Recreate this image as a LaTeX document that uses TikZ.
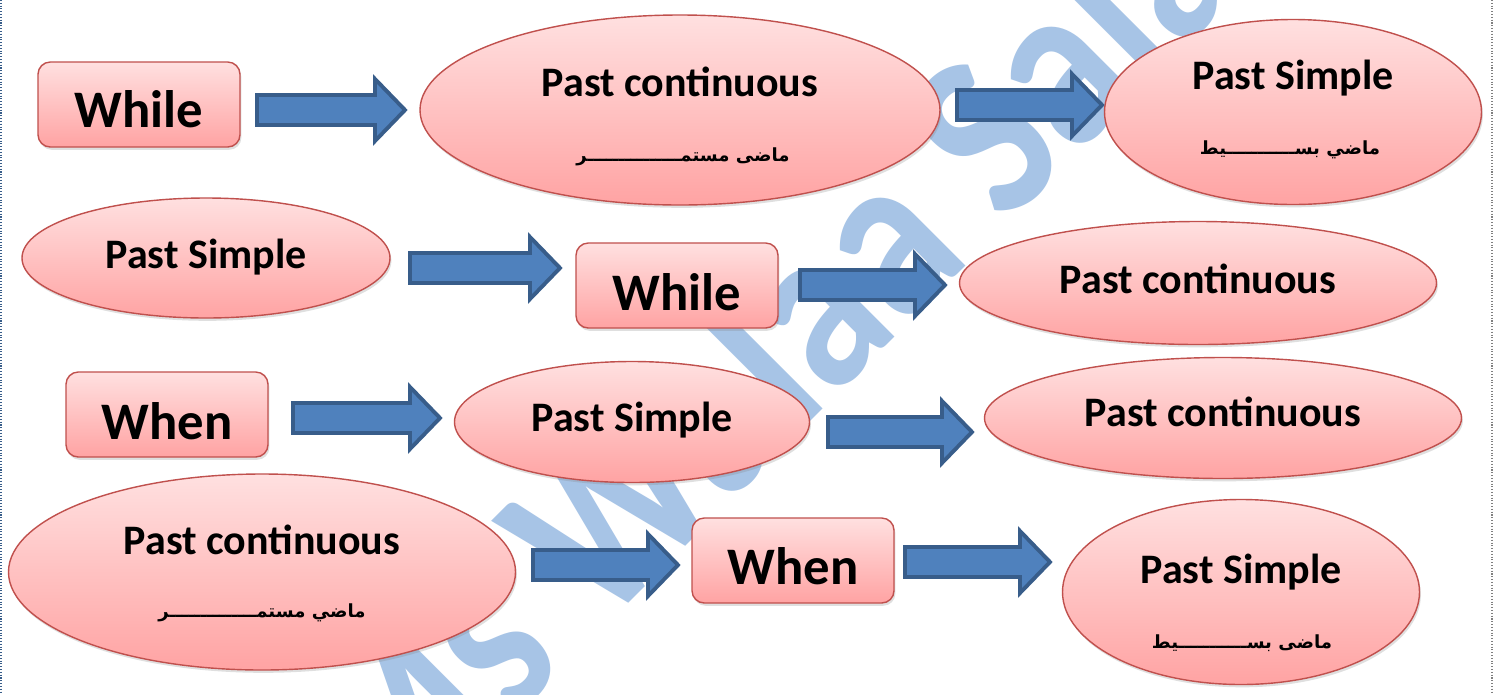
\documentclass[tikz,border=0pt]{standalone}
\usepackage{fontspec}
\setmainfont{Carlito}
\newfontfamily\arabicfont[Script=Arabic]{DejaVu Sans}
\TeXXeTstate=1
\usetikzlibrary{shapes.geometric,calc,shadows}
\definecolor{pinktop}{RGB}{255,224,224}
\definecolor{pinkbot}{RGB}{255,163,163}
\definecolor{pinkline}{RGB}{192,80,77}
\definecolor{arrfill}{RGB}{79,129,189}
\definecolor{arrline}{RGB}{56,93,138}
\definecolor{wmark}{RGB}{167,196,230}
\tikzset{
 pinkshape/.style={draw=pinkline, line width=0.8pt, top color=pinktop, bottom color=pinkbot,
   drop shadow={opacity=0.25, shadow xshift=0.8pt, shadow yshift=-1.6pt}},
 ell/.style 2 args={pinkshape, ellipse, inner sep=0pt, minimum width=#1*0.02cm, minimum height=#2*0.02cm},
 kbox/.style={pinkshape, rectangle, rounded corners=7pt, inner sep=0pt, minimum width=202*0.02cm, minimum height=85*0.02cm},
 lbl/.style={font=\bfseries\fontsize{23.9}{26}\selectfont, anchor=base, inner sep=0pt},
 big/.style={font=\bfseries\fontsize{30}{32}\selectfont, anchor=base, inner sep=0pt},
 arab/.style={font=\arabicfont\bfseries\fontsize{10.3}{12}\selectfont, inner sep=0pt},
 barrow/.style={draw=arrline, fill=arrfill, line width=2.2pt, line join=miter},
 wm/.style={text=wmark, font=\bfseries\fontsize{136}{150}\selectfont, inner sep=0pt},
 edge/.style={densely dotted, line width=0.6pt},
}
\newcommand\blockarrow[2]{\draw[barrow] ($(#1)+(0,-15)$) -- ($(#2)+(-30,-15)$) -- ($(#2)+(-30,-31)$) -- (#2) -- ($(#2)+(-30,31)$) -- ($(#2)+(-30,15)$) -- ($(#1)+(0,15)$) -- cycle;}
\begin{document}
\begin{tikzpicture}[x=0.02cm,y=-0.02cm]
\useasboundingbox (0,0) rectangle (1494,694);
\fill[white] (0,0) rectangle (1494,694);
% watermark
\begin{scope}
\clip (0,0) rectangle (1494,694);
\node[wm, rotate=45, xscale=0.85, anchor=base west] (wmk) at (600,632) {\llap{Ms }Walaa Salah};
\end{scope}
\draw[edge, arrline] (1,0) -- (1,694);
\draw[edge, gray] (1492,0) -- (1492,694);
% row 1
\node[kbox] (b1) at (139,104.5) {};
\node[big] (b1t) at (139,127) {While};
\node[ell={520}{190}] (e1) at (680,110) {};
\node[lbl] (e1t) at (680,96) {Past continuous};
\node[arab] (e1a) at (683,157) {\beginR ماضى مستمـــــــــــــــر\endR};
\node[ell={377}{185}] (e2) at (1293,112) {};
\node[lbl] (e2t) at (1293,89) {Past Simple};
\node[arab] (e2a) at (1290,150) {\beginR ماضي بســـــــــــيط\endR};
% row 2
\node[ell={368}{120}] (e3) at (206,258) {};
\node[lbl] (e3t) at (206,268) {Past Simple};
\node[kbox] (b2) at (677,285.5) {};
\node[big] (b2t) at (677,310) {While};
\node[ell={477}{123}] (e4) at (1198,283) {};
\node[lbl] (e4t) at (1198,293) {Past continuous};
% row 3
\node[kbox] (b3) at (167,414.5) {};
\node[big] (b3t) at (167,439) {When};
\node[ell={355}{121}] (e5) at (632,422) {};
\node[lbl] (e5t) at (632,431) {Past Simple};
\node[ell={477}{121}] (e6) at (1223,418) {};
\node[lbl] (e6t) at (1223,426) {Past continuous};
% row 4
\node[ell={507}{196}] (e7) at (262,572) {};
\node[lbl] (e7t) at (262,554) {Past continuous};
\node[arab] (e7a) at (262,613) {\beginR ماضي مستمــــــــــــــر\endR};
\node[kbox] (b4) at (793,560.5) {};
\node[big] (b4t) at (793,584) {When};
\node[ell={357}{185}] (e8) at (1241,592) {};
\node[lbl] (e8t) at (1241,583) {Past Simple};
\node[arab] (e8a) at (1242,643) {\beginR ماضى بســـــــــــيط\endR};
% arrows
\coordinate (a1s) at (257,110); \coordinate (a1e) at (405,110);
\coordinate (a2s) at (957,105); \coordinate (a2e) at (1102,105);
\coordinate (a3s) at (410,268); \coordinate (a3e) at (560,268);
\coordinate (a4s) at (800,285); \coordinate (a4e) at (945,285);
\coordinate (a5s) at (293,418); \coordinate (a5e) at (440,418);
\coordinate (a6s) at (828,432); \coordinate (a6e) at (972,432);
\coordinate (a7s) at (533,565); \coordinate (a7e) at (678,565);
\coordinate (a8s) at (905,562); \coordinate (a8e) at (1050,562);
\blockarrow{a1s}{a1e}
\blockarrow{a2s}{a2e}
\blockarrow{a3s}{a3e}
\blockarrow{a4s}{a4e}
\blockarrow{a5s}{a5e}
\blockarrow{a6s}{a6e}
\blockarrow{a7s}{a7e}
\blockarrow{a8s}{a8e}
\end{tikzpicture}
\end{document}
